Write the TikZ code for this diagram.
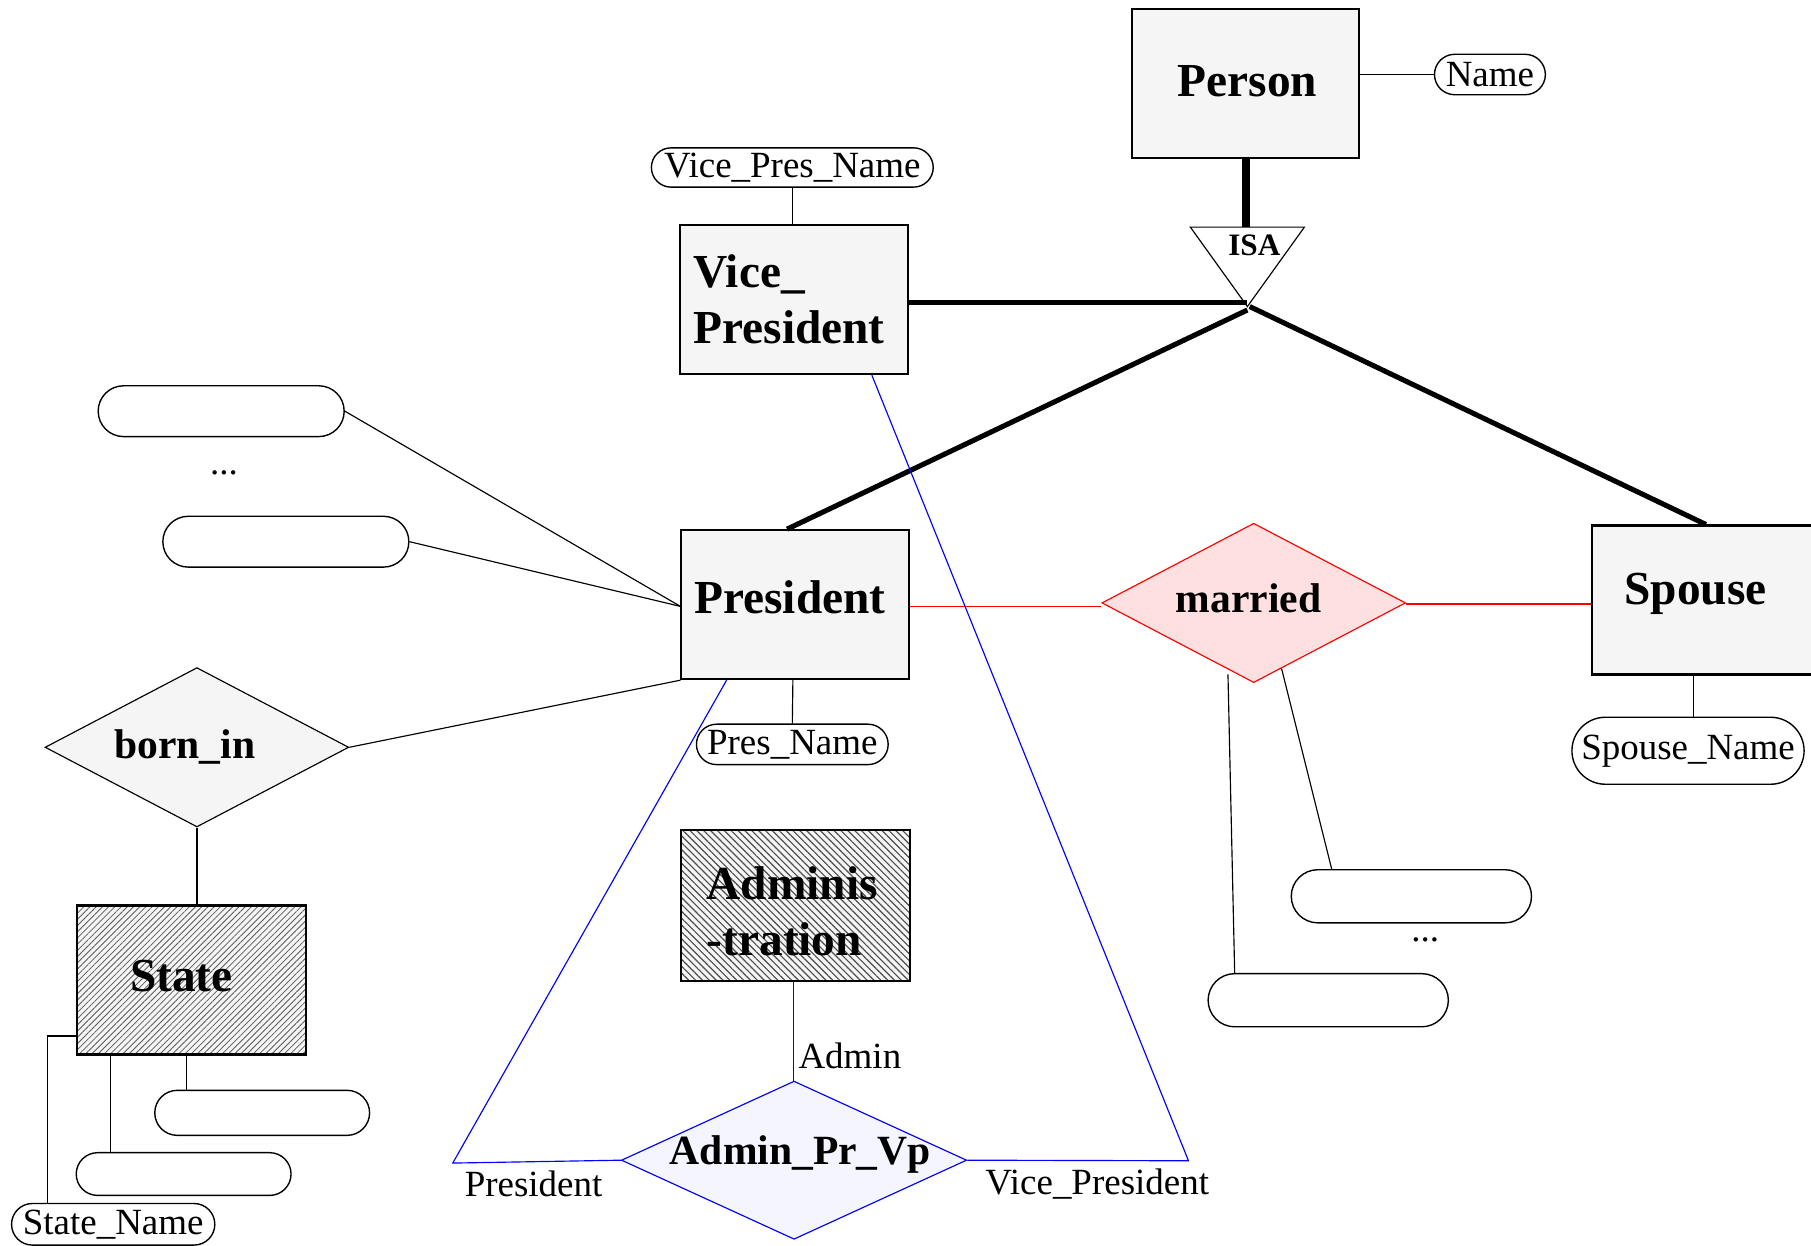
\documentclass[tikz,border=0pt]{standalone}
\usepackage{fontspec}
\setmainfont{Liberation Serif}
\usetikzlibrary{shapes.geometric,shapes.misc,patterns.meta,calc}
\begin{document}
\begin{tikzpicture}[x=0.5pt,y=-0.5pt,
  ent/.style={draw,line width=0.9pt,fill=black!4,inner sep=0pt,minimum width=98.5pt,minimum height=64.5pt,font=\fontsize{20.5}{24}\selectfont\bfseries},
  enttxt/.style={inner sep=0pt,font=\fontsize{20.5}{24}\selectfont\bfseries},
  attr/.style={draw,line width=0.6pt,rounded rectangle,inner sep=0pt,font=\fontsize{16}{19}\selectfont},
  rel/.style={draw,diamond,inner sep=0pt,line width=0.5pt},
  reltxt/.style={inner sep=0pt,font=\fontsize{18}{21}\selectfont\bfseries},
  lbl/.style={inner sep=0pt,font=\fontsize{16}{19}\selectfont},
  conn/.style={line width=0.5pt},
  isaline/.style={line width=2.2pt},
  redline/.style={line width=0.5pt,draw=red},
  blueline/.style={line width=0.5pt,draw=blue},
]
\useasboundingbox (0,0) rectangle (1568,1078);

% Person and ISA
\node[ent] (person) at (1078.5,72.5) {};
\node[enttxt] (persont) at (1080,70) {Person};
\node[attr,minimum width=48pt,minimum height=17.5pt] (name) at (1290,64.5) {Name};
\node[minimum width=49pt,minimum height=34pt,inner sep=0pt] (isa) at (1080,231) {};
\draw[line width=0.5pt,fill=white] (isa.north west) -- (isa.north east) -- (isa.south) -- cycle;
\node[inner sep=0pt,font=\fontsize{13.5}{16}\selectfont\bfseries] (isat) at (1086,212) {ISA};

% Vice president
\node[ent] (vp) at (687.5,259.5) {};
\node[enttxt,align=left,anchor=west] (vpt) at (600,259) {Vice\_\\President};
\node[attr,minimum width=122pt,minimum height=17pt] (vpn) at (686,145) {Vice\_Pres\_Name};

% President and spouse
\node[ent] (pres) at (688.5,523.5) {};
\node[enttxt] (prest) at (684,517) {President};
\node[ent] (spouse) at (1477,519.5) {};
\node[enttxt] (spouset) at (1468,514) {Spouse};
\node[rel,fill=red!12,draw=red,minimum width=131.5pt,minimum height=69pt] (married) at (1085.5,522) {};
\node[reltxt] (marriedt) at (1081,518) {married};
\node[attr,minimum width=100.5pt,minimum height=29pt] (spn) at (1461.5,650) {Spouse\_Name};
\node[attr,minimum width=83pt,minimum height=17.5pt] (pn) at (686,644.5) {Pres\_Name};
\node[attr,minimum width=106.5pt,minimum height=22pt] (la) at (191.5,356) {};
\node[attr,minimum width=106.5pt,minimum height=22pt] (lb) at (247.5,469) {};
\node[lbl] (dots1) at (194,409) {...};
\node[attr,minimum width=104pt,minimum height=23pt] (ma) at (1222,776) {};
\node[attr,minimum width=104pt,minimum height=23pt] (mb) at (1150,866) {};
\node[lbl] (dots2) at (1234,814) {...};

% born_in and state
\node[rel,fill=black!4,minimum width=131.5pt,minimum height=69pt] (bornin) at (170.5,647) {};
\node[reltxt] (bornint) at (160,647) {born\_in};
\node[draw,line width=0.9pt,inner sep=0pt,minimum width=99pt,minimum height=64.5pt,
      preaction={fill=black!4},pattern={Lines[angle=45,distance=1.9pt,line width=0.35pt]},pattern color=black!65] (state) at (166,848.5) {};
\node[enttxt] (statet) at (157,845) {State};
\node[attr,minimum width=93pt,minimum height=19.5pt] (sta) at (227,963.5) {};
\node[attr,minimum width=93pt,minimum height=18.5pt] (stb) at (159,1016.5) {};
\node[attr,minimum width=88pt,minimum height=18pt] (sn) at (98,1060) {State\_Name};

% Administration
\node[draw,line width=0.9pt,inner sep=0pt,minimum width=99pt,minimum height=65pt,
      preaction={fill=black!4},pattern={Lines[angle=-45,distance=2.1pt,line width=0.5pt]},pattern color=black!70] (adm) at (689,784) {};
\node[enttxt,align=left] (admt) at (686,789) {Adminis\\-tration};
\node[rel,fill=blue!4,draw=blue,minimum width=149.5pt,minimum height=68.5pt] (apv) at (687.5,1004.5) {};
\node[reltxt] (apvt) at (693,1000) {Admin\_Pr\_Vp};

% connectors
\draw[conn] (name.west) -- (name.west -| person.east);
\draw[line width=3.5pt] (person.south) -- (person.south |- isa.north);
\draw[line width=2pt] ($(vp.east)+(0,2.5)$) coordinate (vpe) -- (vpe -| isa.south);
\draw[isaline] ($(isa.south)+(0,3)$) -- ($(pres.north)+(-7,0)$);
\draw[isaline] ($(isa.south)+(2,0)$) -- (spouse.north);
\draw[conn] (vpn.south) -- (vpn.south |- vp.north);
\draw[redline] ($(pres.east)+(0,1.5)$) -- ($(married.west)+(0,3)$);
\draw[redline] ($(married.east)+(0,1)$) coordinate (me) -- (me -| spouse.west);
\draw[conn] ($(spouse.south)+(-11,0)$) -- ($(spn.north)+(4.5,0)$);
\draw[conn] ($(pres.south)+(-2,0)$) -- (pn.north);
\draw[conn] (la.east) -- ($(pres.west)+(0,1.5)$);
\draw[conn] (lb.east) -- ($(pres.west)+(0,1.5)$);
\draw[conn] (bornin.east) -- (pres.south west);
\draw[conn] (bornin.south) -- (bornin.south |- state.north);
\draw[conn] ($(state.south west)+(95,0)$) coordinate (sa) -- (sa |- sta.north);
\draw[conn] ($(state.south west)+(29,0)$) coordinate (sb) -- (sb |- stb.north);
\coordinate (snk) at (41,897);
\draw[conn] (state.west |- snk) -- (snk) -- (snk |- sn.north);
\draw[conn] (married.-67) -- ($(ma.north west)+(12,0)$);
\draw[conn] ($(married.-103)+(-8,0)$) -- ($(mb.north west)+(0,0)$);

% blue ternary relationship
\coordinate (pbend) at (392,1007);
\coordinate (vbend) at (1029,1005);
\draw[blueline] ($(pres.south west)+(40,0)$) -- (pbend) -- (apv.west);
\draw[blueline] ($(vp.south east)+(-32,0)$) -- (vbend) -- (apv.east);
\draw[line width=0.8pt,draw=blue] ($(adm.south)+(-2,0)$) coordinate (as) -- (as |- apv.north);
\node[lbl,anchor=west] (adml) at (691,914) {Admin};
\node[lbl] (presl) at (462,1025) {President};
\node[lbl] (vpl) at (950,1025) {Vice\_President};
\end{tikzpicture}
\end{document}
